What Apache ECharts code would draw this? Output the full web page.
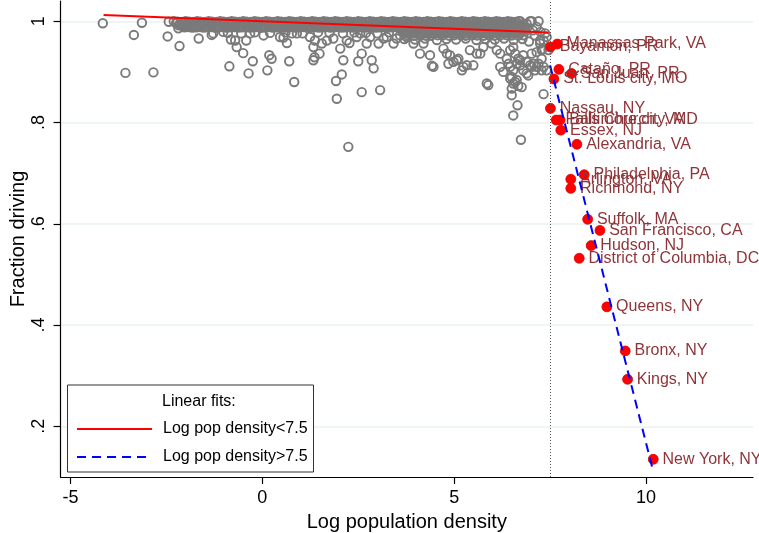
<!DOCTYPE html>
<html><head><meta charset="utf-8">
<script src="https://cdn.jsdelivr.net/npm/echarts@6/dist/echarts.min.js"></script>
<style>html,body{margin:0;padding:0;background:#fff}#c{width:759px;height:533px}</style>
</head><body><div id="c"></div>
<script>
const FONT = '"Liberation Sans", Arial, Helvetica, sans-serif';
const xTicks = [-5, 0, 5, 10];
const yTicks = [0.2, 0.4, 0.6, 0.8, 1];
const cutoff = 7.5;

// labelled dense counties (log pop density > 7.5)
const countyNames = ['Bayamón, PR','Manassas Park, VA','Cataño, PR','San Juan, PR','St. Louis city, MO','Nassau, NY','Falls Church, VA','Baltimore city, MD','Essex, NJ','Alexandria, VA','Philadelphia, PA','Arlington, VA','Richmond, NY','Suffolk, MA','San Francisco, CA','Hudson, NJ','District of Columbia, DC','Queens, NY','Bronx, NY','Kings, NY','New York, NY'];
const countyX = [7.51,7.69,7.73,8.06,7.60,7.51,7.66,7.76,7.78,8.20,8.39,8.04,8.04,8.48,8.80,8.57,8.26,8.98,9.46,9.52,10.19];
const countyY = [0.949,0.955,0.905,0.897,0.886,0.828,0.805,0.805,0.785,0.757,0.697,0.688,0.670,0.609,0.587,0.557,0.532,0.436,0.349,0.293,0.135];

// linear fits (end points)
const fitLowX = [-4.14, 7.46];
const fitLowY = [1.0124, 0.9777];
const fitHighX = [7.50, 10.19];
const fitHighY = [0.913, 0.111];

// all other counties (gray hollow markers) - dense band near 1, read row by row
const band1 = [[-2.31,1],[-2.21,.999],[-2.10,.9985],[-2.00,1],[-1.91,.999],[-1.80,.9985],[-1.70,1],[-1.61,.999],[-1.50,.9985],[-1.40,1],[-1.31,.999],[-1.20,.9985],[-1.10,1],[-1.01,.999],[-.90,.9985],[-.80,1],[-.71,.999],[-.60,.9985],[-.50,1],[-.41,.999],[-.30,.9985],[-.20,1],[-.11,.999],[0,.9985],[.10,1],[.19,.999],[.30,.9985],[.40,1],[.49,.999],[.60,.9985],[.70,1],[.79,.999],[.90,.9985],[1.00,1],[1.09,.999],[1.20,.9985],[1.30,1],[1.39,.999],[1.50,.9985],[1.60,1],[1.69,.999],[1.80,.9985],[1.90,1],[1.99,.999],[2.10,.9985],[2.20,1],[2.29,.999],[2.40,.9985],[2.50,1],[2.59,.999],[2.70,.9985],[2.80,1],[2.89,.999],[3.00,.9985],[3.10,1],[3.19,.999],[3.30,.9985],[3.40,1],[3.49,.999],[3.60,.9985],[3.70,1],[3.79,.999],[3.90,.9985],[4.00,1],[4.09,.999],[4.20,.9985],[4.30,1],[4.39,.999],[4.50,.9985],[4.60,1],[4.69,.999],[4.80,.9985],[4.90,1],[4.99,.999],[5.10,.9985],[5.20,1],[5.29,.999],[5.40,.9985],[5.50,1],[5.59,.999],[5.70,.9985],[5.80,1],[5.89,.999],[6.00,.9985],[6.10,1],[6.19,.999],[6.30,.9985],[6.40,1],[6.49,.999],[6.60,.9985],[6.68,1]];
const band2 = [[-2.25,.996],[-2.15,.995],[-2.05,.9965],[-1.95,.996],[-1.85,.995],[-1.75,.9965],[-1.65,.996],[-1.55,.995],[-1.45,.9965],[-1.35,.996],[-1.25,.995],[-1.15,.9965],[-1.05,.996],[-.95,.995],[-.85,.9965],[-.75,.996],[-.65,.995],[-.55,.9965],[-.45,.996],[-.35,.995],[-.25,.9965],[-.15,.996],[-.05,.995],[.05,.9965],[.15,.996],[.25,.995],[.35,.9965],[.45,.996],[.55,.995],[.65,.9965],[.75,.996],[.85,.995],[.95,.9965],[1.05,.996],[1.15,.995],[1.25,.9965],[1.35,.996],[1.45,.995],[1.55,.9965],[1.65,.996],[1.75,.995],[1.85,.9965],[1.95,.996],[2.05,.995],[2.15,.9965],[2.25,.996],[2.35,.995],[2.45,.9965],[2.55,.996],[2.65,.995],[2.75,.9965],[2.85,.996],[2.95,.995],[3.05,.9965],[3.15,.996],[3.25,.995],[3.35,.9965],[3.45,.996],[3.55,.995],[3.65,.9965],[3.75,.996],[3.85,.995],[3.95,.9965],[4.05,.996],[4.15,.995],[4.25,.9965],[4.35,.996],[4.45,.995],[4.55,.9965],[4.65,.996],[4.75,.995],[4.85,.9965],[4.95,.996],[5.05,.995],[5.15,.9965],[5.25,.996],[5.35,.995],[5.45,.9965],[5.55,.996],[5.65,.995],[5.75,.9965],[5.85,.996],[5.95,.995],[6.05,.9965],[6.15,.996],[6.25,.995],[6.35,.9965],[6.45,.996],[6.55,.995],[6.65,.9965]];
const band3 = [[-2.18,.992],[-2.07,.9915],[-1.99,.993],[-1.88,.992],[-1.79,.9915],[-1.68,.993],[-1.58,.992],[-1.49,.9915],[-1.37,.993],[-1.28,.992],[-1.18,.9915],[-1.08,.993],[-.97,.992],[-.88,.9915],[-.78,.993],[-.69,.992],[-.57,.9915],[-.48,.993],[-.38,.992],[-.27,.9915],[-.18,.993],[-.08,.992],[.03,.9915],[.12,.993],[.22,.992],[.33,.9915],[.42,.993],[.52,.992],[.63,.9915],[.72,.993],[.82,.992],[.93,.9915],[1.02,.993],[1.12,.992],[1.23,.9915],[1.32,.993],[1.42,.992],[1.53,.9915],[1.62,.993],[1.72,.992],[1.83,.9915],[1.92,.993],[2.02,.992],[2.13,.9915],[2.22,.993],[2.32,.992],[2.43,.9915],[2.52,.993],[2.62,.992],[2.73,.9915],[2.82,.993],[2.92,.992],[3.03,.9915],[3.12,.993],[3.22,.992],[3.33,.9915],[3.42,.993],[3.52,.992],[3.63,.9915],[3.72,.993],[3.82,.992],[3.93,.9915],[4.02,.993],[4.12,.992],[4.23,.9915],[4.32,.993],[4.42,.992],[4.53,.9915],[4.62,.993],[4.72,.992],[4.83,.9915],[4.92,.993],[5.02,.992],[5.13,.9915],[5.22,.993],[5.32,.992],[5.43,.9915],[5.52,.993],[5.62,.992],[5.73,.9915],[5.82,.993],[5.92,.992],[6.03,.9915],[6.12,.993],[6.22,.992],[6.33,.9915],[6.42,.993],[6.52,.992],[6.63,.9915],[6.72,.993]];
const band4 = [[-2.03,.988],[-1.92,.9885],[-1.83,.9875],[-1.73,.988],[-1.62,.9885],[-1.53,.9875],[-1.43,.988],[-1.32,.9885],[-1.23,.9875],[-1.13,.988],[-1.02,.9885],[-.93,.9875],[-.83,.988],[-.72,.9885],[-.63,.9875],[-.53,.988],[-.42,.9885],[-.33,.9875],[-.23,.988],[-.12,.9885],[-.03,.9875],[.07,.988],[.18,.9885],[.27,.9875],[.37,.988],[.48,.9885],[.57,.9875],[.67,.988],[.78,.9885],[.87,.9875],[.97,.988],[1.08,.9885],[1.17,.9875],[1.27,.988],[1.38,.9885],[1.47,.9875],[1.57,.988],[1.68,.9885],[1.77,.9875],[1.87,.988],[1.98,.9885],[2.07,.9875],[2.17,.988],[2.28,.9885],[2.37,.9875],[2.47,.988],[2.58,.9885],[2.67,.9875],[2.77,.988],[2.88,.9885],[2.97,.9875],[3.07,.988],[3.18,.9885],[3.27,.9875],[3.37,.988],[3.48,.9885],[3.57,.9875],[3.67,.988],[3.78,.9885],[3.87,.9875],[3.97,.988],[4.08,.9885],[4.17,.9875],[4.27,.988],[4.38,.9885],[4.47,.9875],[4.57,.988],[4.68,.9885],[4.77,.9875],[4.87,.988],[4.98,.9885],[5.07,.9875],[5.17,.988],[5.28,.9885],[5.37,.9875],[5.47,.988],[5.58,.9885],[5.67,.9875],[5.77,.988],[5.88,.9885],[5.97,.9875],[6.07,.988],[6.18,.9885],[6.27,.9875],[6.37,.988],[6.48,.9885],[6.57,.9875],[6.67,.988],[6.78,.9885],[6.90,.987]];
const band5 = [[3.62,.984],[3.71,.9835],[3.81,.9845],[3.92,.984],[4.01,.9835],[4.11,.9845],[4.22,.984],[4.31,.9835],[4.41,.9845],[4.52,.984],[4.61,.9835],[4.71,.9845],[4.82,.984],[4.91,.9835],[5.01,.9845],[5.12,.984],[5.21,.9835],[5.31,.9845],[5.42,.984],[5.51,.9835],[5.61,.9845],[5.72,.984],[5.81,.9835],[5.91,.9845],[6.02,.984],[6.11,.9835],[6.21,.9845],[6.32,.984],[6.41,.9835],[6.51,.9845],[6.62,.984],[6.71,.9835],[6.81,.9845]];
const band6 = [[3.66,.980],[3.76,.9795],[3.86,.9805],[3.96,.980],[4.06,.9795],[4.16,.9805],[4.26,.980],[4.36,.9795],[4.46,.9805],[4.56,.980],[4.66,.9795],[4.76,.9805],[4.86,.980],[4.96,.9795],[5.06,.9805],[5.16,.980],[5.26,.9795],[5.36,.9805],[5.46,.980],[5.56,.9795],[5.66,.9805],[5.76,.980],[5.86,.9795],[5.96,.9805],[6.06,.980],[6.16,.9795],[6.26,.9805],[6.36,.980],[6.46,.9795],[6.56,.9805],[6.66,.980],[6.76,.9795],[6.86,.9805]];
const band7 = [[3.72,.976],[3.82,.9755],[3.93,.9765],[4.02,.976],[4.12,.9755],[4.23,.9765],[4.32,.976],[4.42,.9755],[4.53,.9765],[4.62,.976],[4.72,.9755],[4.83,.9765],[4.92,.976],[5.02,.9755],[5.13,.9765],[5.22,.976],[5.32,.9755],[5.43,.9765],[5.52,.976],[5.62,.9755],[5.73,.9765],[5.82,.976],[5.92,.9755],[6.03,.9765],[6.12,.976],[6.22,.9755],[6.33,.9765],[6.42,.976],[6.52,.9755],[6.63,.9765],[6.72,.976]];
const band8 = [[3.78,.972],[3.95,.9715],[4.10,.9725],[4.27,.972],[4.40,.9715],[4.57,.9725],[4.70,.972],[4.87,.9715],[5.00,.9725],[5.17,.972],[5.30,.9715],[5.47,.9725],[5.60,.972],[5.77,.9715],[5.90,.9725],[6.07,.972],[6.20,.9715],[6.37,.9725],[6.50,.972],[6.67,.9715],[6.80,.9725]];
const fringe = [[-.90,.977],[-.55,.976],[-.20,.978],[.20,.977],[.60,.978],[1.05,.976],[1.45,.978],[1.75,.977],[2.10,.976],[2.40,.978],[2.70,.977],[3.00,.976],[3.30,.978],
  [3.70,.965],[3.98,.964],[4.24,.966],[4.55,.963],[4.80,.965],[5.05,.964],[5.30,.966],[5.58,.963],[5.82,.965],[6.06,.964],[6.30,.966],[6.55,.963],[6.78,.965]];
const scatterOut = [[-4.16,.996],[-3.14,.997],[-3.35,.973],[-3.57,.898],[-2.84,.899],[-2.44,.999],[-2.47,.970],[-2.16,.951],[-2.19,.986],[-2.06,.989],[-1.71,.989],[-1.66,.966],[-1.32,.973],[-1.28,.976],[-1.02,.979],[-0.86,.911],[-0.82,.964],[-0.67,.949],[-0.71,.962],[-0.50,.937],[-0.42,.962],[-0.32,.976],[-0.36,.897],[-0.25,.921],[0.03,.972],[0.13,.903],[0.18,.933],[0.24,.926],[0.46,.969],[0.70,.921],[0.83,.880],[0.64,.957],[0.55,.968],[0.77,.976],[0.90,.976],[1.24,.969],[1.33,.923],[1.36,.929],[1.37,.962],[1.49,.936],[1.33,.949],[1.55,.956],[1.68,.962],[1.85,.966],[1.92,.882],[2.07,.895],[1.94,.847],[2.03,.946],[2.11,.923],[2.20,.962],[2.27,.957],[2.46,.969],[2.55,.976],[2.59,.936],[2.50,.921],[2.72,.956],[2.81,.969],[2.85,.923],[2.90,.907],[2.59,.860],[3.07,.864],[2.24,.752],[3.03,.956],[3.16,.966],[3.24,.969],[3.42,.956],[3.50,.966],[3.59,.972],[3.76,.969],
  [3.94,.956],[4.11,.936],[4.37,.933],[4.46,.910],[4.42,.912],[4.20,.956],[4.72,.946],[4.81,.936],[4.85,.916],[4.89,.933],[4.98,.920],[5.07,.923],[5.11,.926],[5.20,.903],[5.24,.910],[5.33,.913],[5.41,.943],[5.50,.913],[5.59,.936],[5.68,.936],[5.76,.949],[5.85,.877],[5.89,.874],[5.98,.956],[6.11,.943],[6.20,.910],[6.20,.936],[6.28,.900],[6.37,.926],[6.42,.916],[6.46,.887],[6.46,.943],[6.46,.910],[6.50,.890],[6.50,.867],[6.50,.854],[6.54,.949],[6.54,.903],[6.54,.877],[6.54,.814],[6.59,.936],[6.59,.880],[6.63,.916],[6.63,.884],[6.65,.834],[6.67,.872],[6.67,.926],[6.72,.923],[6.72,.913],[6.72,1.0],[6.74,.766],[6.76,.870],[6.76,.989],[6.80,.933],[6.80,.903],[6.85,.985],[6.89,.920],[6.89,.897],[6.89,.995],[6.93,.893],[6.95,.960],[6.98,.913],[6.98,1.0],[7.02,.936],[7.02,.910],[7.02,1.0],[7.05,.982],[7.07,.916],[7.10,.972],[7.11,.903],[7.15,.910],[7.15,.989],[7.15,.939],[7.20,.916],[7.20,1.0],[7.24,.962],[7.24,.956],[7.25,.979],[7.28,.926],[7.28,.903],[7.28,.943],[7.30,.945],[7.33,.910],[7.33,.962],[7.33,.856],[7.37,.976],[7.41,.903],[7.41,.969],[7.46,.943]];

const grayData = band1.concat(band2, band3, band4, band5, band6, band7, band8, fringe, scatterOut,
  countyX.map((x, i) => [x, countyY[i]]));
const countyData = countyNames.map((n, i) => ({ name: n, value: [countyX[i], countyY[i]] }));

const chart = echarts.init(document.getElementById('c'), null, { renderer: 'canvas' });
chart.setOption({
  animation: false,
  backgroundColor: '#ffffff',
  textStyle: { fontFamily: FONT },
  grid: { left: 60.6, right: 6, top: 1, bottom: 56, outerBoundsMode: 'none' },
  xAxis: {
    type: 'value', min: -5.26, max: 12.79,
    name: 'Log population density', nameLocation: 'middle', nameGap: 35, nameMoveOverlap: false,
    nameTextStyle: { fontSize: 20, color: '#000', fontFamily: FONT },
    axisLine: { show: true, onZero: false, lineStyle: { color: '#000', width: 1.2 } },
    axisTick: { show: true, customValues: xTicks, length: 7, lineStyle: { color: '#000', width: 1.2 } },
    axisLabel: { customValues: xTicks, fontSize: 18, color: '#000', margin: 12, fontFamily: FONT, formatter: v => String(v) },
    splitLine: { show: false }
  },
  yAxis: {
    type: 'value', min: 0.1, max: 1.04,
    name: 'Fraction driving', nameLocation: 'middle', nameGap: 32, nameRotate: 90, nameMoveOverlap: false,
    nameTextStyle: { fontSize: 20, color: '#000', fontFamily: FONT },
    axisLine: { show: true, onZero: false, lineStyle: { color: '#000', width: 1.2 } },
    axisTick: { show: true, customValues: yTicks, length: 7, lineStyle: { color: '#000', width: 1.2 } },
    axisLabel: { customValues: yTicks, rotate: 90, fontSize: 18, color: '#000', margin: 13, fontFamily: FONT,
      formatter: v => (Math.abs(v - 1) < 1e-9 ? '1' : ('.' + Math.round(v * 10))) },
    splitLine: { show: true, lineStyle: { color: '#eaf2f3', width: 1.5 } }
  },
  legend: {
    data: ['Log pop density<7.5', 'Log pop density>7.5'],
    orient: 'vertical', left: 76, top: 421, padding: 0, itemWidth: 75, itemHeight: 16, itemGap: 12,
    itemStyle: { opacity: 0 },
    textStyle: { fontSize: 16, color: '#000', fontFamily: FONT, padding: [0, 0, 0, 6] },
    selectedMode: false
  },
  graphic: [
    { type: 'rect', shape: { x: 67.5, y: 385, width: 246, height: 87 }, style: { fill: '#fff', stroke: '#333', lineWidth: 1 }, z: 1, silent: true },
    { type: 'text', x: 162, y: 402, style: { text: 'Linear fits:', fontSize: 16, fill: '#000', font: '16px ' + FONT, verticalAlign: 'middle' }, z: 5, silent: true }
  ],
  series: [
    {
      type: 'scatter', name: 'all counties', data: grayData, symbol: 'circle', symbolSize: 8.5, silent: true, z: 2,
      itemStyle: { color: 'rgba(0,0,0,0)', borderColor: '#7a7a7a', borderWidth: 1.9, opacity: 1 }
    },
    {
      type: 'scatter', name: 'dense counties', data: countyData, symbolSize: 10, silent: true, z: 3,
      itemStyle: { color: '#ff0000', borderColor: '#ff0000', borderWidth: 0.5, opacity: 1 },
      label: { show: true, position: 'right', distance: 4, formatter: '{b}', fontSize: 16, color: '#8e3539', fontFamily: FONT },
      labelLayout: { hideOverlap: false }
    },
    {
      type: 'line', name: 'Log pop density<7.5', data: fitLowX.map((x, i) => [x, fitLowY[i]]),
      symbol: 'none', silent: true, z: 4,
      lineStyle: { color: '#ff0000', width: 2 }, itemStyle: { color: '#ff0000' },
      markLine: { silent: true, symbol: 'none', label: { show: false },
        lineStyle: { color: '#555', width: 1, type: [1, 2] }, data: [{ xAxis: cutoff }] }
    },
    {
      type: 'line', name: 'Log pop density>7.5', data: fitHighX.map((x, i) => [x, fitHighY[i]]),
      symbol: 'none', silent: true, z: 4,
      lineStyle: { color: '#0000ff', width: 2, type: [9, 6] }, itemStyle: { color: '#0000ff' }
    }
  ]
});
</script></body></html>
